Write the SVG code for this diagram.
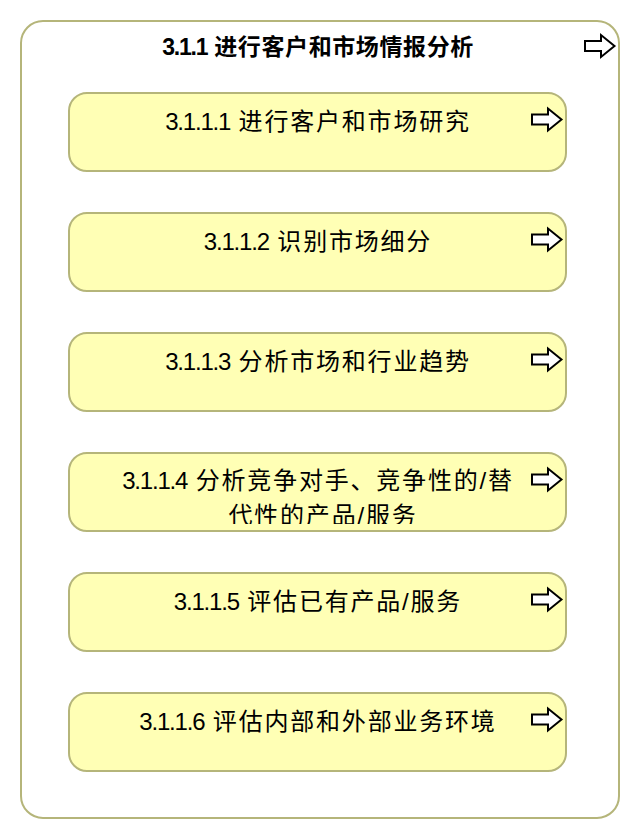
<svg xmlns="http://www.w3.org/2000/svg" xmlns:xlink="http://www.w3.org/1999/xlink" width="640" height="840" viewBox="0 0 640 840">
<style>
.outer{fill:#ffffff;stroke:#b5b57a;stroke-width:2}
.box{fill:#ffffb5;stroke:#b5b57a;stroke-width:2}
.arr{fill:#ffffff;stroke:#000000;stroke-width:2;stroke-linejoin:miter}
.title{font-family:"Liberation Sans","Noto Sans CJK SC",sans-serif;font-size:23px;font-weight:bold;fill:#000;text-anchor:middle;letter-spacing:0.6px}
.lbl{font-family:"Liberation Sans","Noto Sans CJK SC",sans-serif;font-size:24px;fill:#000;text-anchor:middle;letter-spacing:1.8px}
.num{letter-spacing:-1.2px}
</style>
<defs>
<path id="arrow" d="M0,-5 H16 V-11 L29.5,0 L16,11 V5 H0 Z"/>
<clipPath id="clip4"><rect x="70" y="454" width="495" height="70"/></clipPath>
</defs>
<g id="node-3.1.1">
<rect class="outer" x="21" y="21" width="598" height="797" rx="22" ry="22"/>
<text class="title" x="318" y="55"><tspan class="num">3.1.1</tspan> 进行客户和市场情报分析</text>
<use xlink:href="#arrow" class="arr" x="585" y="46"/>
</g>
<g id="node-3.1.1.1">
<rect class="box" x="69" y="93" width="497" height="78" rx="18" ry="18"/>
<text class="lbl" x="318" y="130"><tspan class="num">3.1.1.1</tspan> 进行客户和市场研究</text>
<use xlink:href="#arrow" class="arr" x="532" y="119.5"/>
</g>
<g id="node-3.1.1.2">
<rect class="box" x="69" y="213" width="497" height="78" rx="18" ry="18"/>
<text class="lbl" x="318" y="250"><tspan class="num">3.1.1.2</tspan> 识别市场细分</text>
<use xlink:href="#arrow" class="arr" x="532" y="239.5"/>
</g>
<g id="node-3.1.1.3">
<rect class="box" x="69" y="333" width="497" height="78" rx="18" ry="18"/>
<text class="lbl" x="318" y="370"><tspan class="num">3.1.1.3</tspan> 分析市场和行业趋势</text>
<use xlink:href="#arrow" class="arr" x="532" y="359.5"/>
</g>
<g id="node-3.1.1.4">
<rect class="box" x="69" y="453" width="497" height="78" rx="18" ry="18"/>
<g clip-path="url(#clip4)">
<text class="lbl" x="318" y="489"><tspan class="num">3.1.1.4</tspan> 分析竞争对手、竞争性的/替</text>
<text class="lbl" x="323" y="524">代性的产品/服务</text>
</g>
<use xlink:href="#arrow" class="arr" x="532" y="479.5"/>
</g>
<g id="node-3.1.1.5">
<rect class="box" x="69" y="573" width="497" height="78" rx="18" ry="18"/>
<text class="lbl" x="318" y="610"><tspan class="num">3.1.1.5</tspan> 评估已有产品/服务</text>
<use xlink:href="#arrow" class="arr" x="532" y="599.5"/>
</g>
<g id="node-3.1.1.6">
<rect class="box" x="69" y="693" width="497" height="78" rx="18" ry="18"/>
<text class="lbl" x="318" y="730"><tspan class="num">3.1.1.6</tspan> 评估内部和外部业务环境</text>
<use xlink:href="#arrow" class="arr" x="532" y="719.5"/>
</g>
<g id="connectors"></g>
</svg>
